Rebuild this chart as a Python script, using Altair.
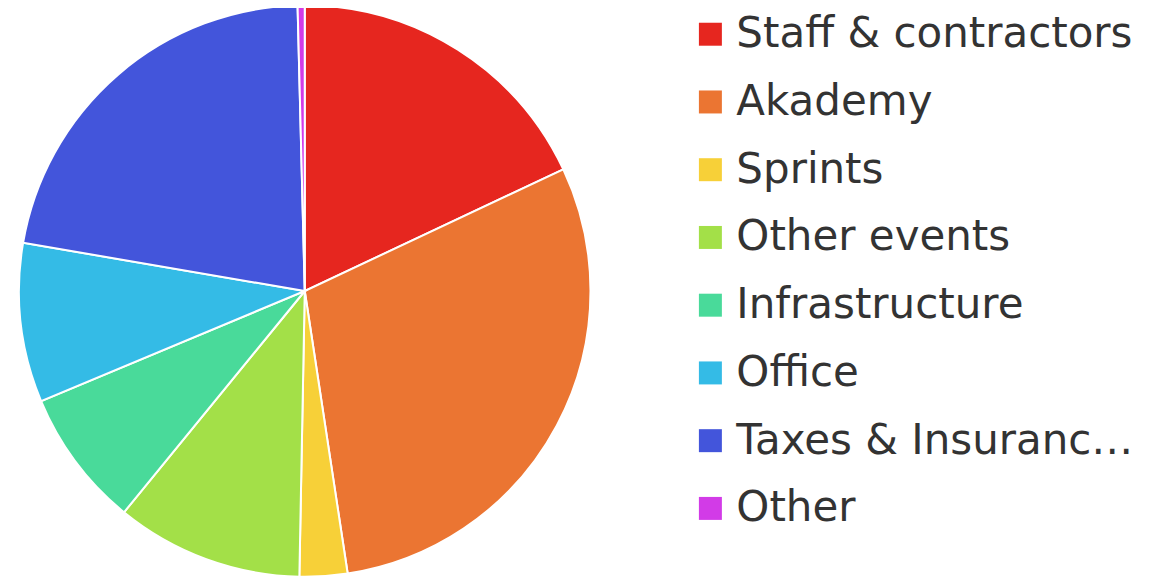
import altair as alt
import pandas as pd

categories = ["Staff & contractors", "Akademy", "Sprints", "Other events",
              "Infrastructure", "Office", "Taxes & Insurance fees", "Other"]
values = [18.0, 29.6, 2.7, 10.6, 7.8, 9.0, 21.9, 0.4]
colors = ["#e6261f", "#eb7532", "#f7d038", "#a3e048",
          "#49da9a", "#34bbe6", "#4355db", "#d23be7"]

df = pd.DataFrame({"category": categories, "value": values,
                   "idx": list(range(len(categories)))})

fs = 42

chart = alt.Chart(df).mark_arc(radius=286, stroke="white", strokeWidth=2).encode(
    theta=alt.Theta("value:Q", stack=True),
    order=alt.Order("idx:Q"),
    x=alt.value(297),
    y=alt.value(283),
    color=alt.Color(
        "category:N",
        scale=alt.Scale(domain=categories, range=colors),
        legend=alt.Legend(
            title=None, orient="none", legendX=682, legendY=5,
            labelFont="DejaVu Sans", labelFontSize=fs, labelColor="#333333",
            symbolType="square", symbolSize=529, symbolStrokeWidth=0,
            labelOffset=5, rowPadding=25.8, labelLimit=400,
        ),
    ),
).properties(width=1150, height=568, padding=0, autosize="none"
).configure_view(stroke=None)

chart.save("out.html", embed_options={"renderer": "svg", "actions": False})
